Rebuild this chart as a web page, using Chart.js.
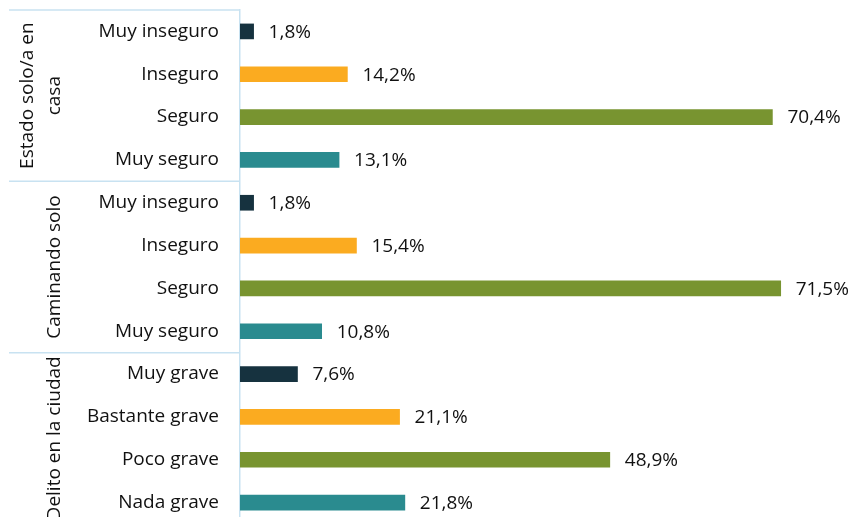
<!DOCTYPE html>
<html>
<head>
<meta charset="utf-8">
<script src="https://cdn.jsdelivr.net/npm/chart.js@4.4.1/dist/chart.umd.min.js"></script>
<style>
  html, body { margin: 0; padding: 0; background: #fff; overflow: hidden; }
  #wrap { position: relative; width: 851px; height: 524px; }
</style>
</head>
<body>
<div id="wrap"><canvas id="c"></canvas></div>
<script>
// Answer categories, top to bottom
const categories = [
  "Muy inseguro", "Inseguro", "Seguro", "Muy seguro",
  "Muy inseguro", "Inseguro", "Seguro", "Muy seguro",
  "Muy grave", "Bastante grave", "Poco grave", "Nada grave"
];
// Share of respondents (%)
const values = [1.8, 14.2, 70.4, 13.1, 1.8, 15.4, 71.5, 10.8, 7.6, 21.1, 48.9, 21.8];
// Question groups (each covers four categories); inner arrays are text lines
const groups = [["Estado solo/a en", "casa"], ["Caminando solo"], ["Delito en la ciudad"]];

const levelColors = ["#16323f", "#fbab20", "#789430", "#2a8b8f"];
const lineColor = "#c8e2f1";
const textColor = "#111111";
const fontFamily = "'Open Sans', 'DejaVu Sans', sans-serif";
const fontSize = 19;

const fmt = v => v.toFixed(1).replace(".", ",") + "%";

// Value labels to the right of each bar
const valueLabels = {
  id: "valueLabels",
  afterDatasetsDraw(chart) {
    const ctx = chart.ctx;
    const meta = chart.getDatasetMeta(0);
    ctx.save();
    ctx.font = fontSize + "px " + fontFamily;
    ctx.fillStyle = textColor;
    ctx.textAlign = "left";
    ctx.textBaseline = "middle";
    meta.data.forEach((bar, i) => {
      ctx.fillText(fmt(values[i]), bar.x + 15, bar.y + 1);
    });
    ctx.restore();
  }
};

// Group separators and rotated group titles in the axis area
const groupAxis = {
  id: "groupAxis",
  afterDraw(chart) {
    const ctx = chart.ctx;
    const y = chart.scales.y;
    const left = 9;
    const right = chart.chartArea.left;
    const per = categories.length / groups.length;
    const edge = k => {
      if (k === 0) return chart.chartArea.top;
      if (k === groups.length) return chart.chartArea.bottom;
      return (y.getPixelForValue(k * per - 1) + y.getPixelForValue(k * per)) / 2;
    };
    ctx.save();
    ctx.strokeStyle = lineColor;
    ctx.lineWidth = 1.5;
    for (let k = 0; k <= groups.length; k++) {
      const yy = edge(k);
      ctx.beginPath();
      ctx.moveTo(left, yy);
      ctx.lineTo(right, yy);
      ctx.stroke();
    }
    ctx.font = fontSize + "px " + fontFamily;
    ctx.fillStyle = textColor;
    ctx.textAlign = "center";
    ctx.textBaseline = "alphabetic";
    groups.forEach((lines, k) => {
      const cy = (edge(k) + edge(k + 1)) / 2;
      const n = lines.length;
      lines.forEach((line, j) => {
        const bx = 60 - (n - 1 - j) * 27;
        ctx.save();
        ctx.translate(bx, cy);
        ctx.rotate(-Math.PI / 2);
        ctx.fillText(line, 0, 0);
        ctx.restore();
      });
    });
    ctx.restore();
  }
};

new Chart(document.getElementById("c"), {
  type: "bar",
  data: {
    labels: categories,
    datasets: [{
      data: values,
      backgroundColor: values.map((v, i) => levelColors[i % 4]),
      barThickness: 15
    }]
  },
  options: {
    indexAxis: "y",
    responsive: true,
    maintainAspectRatio: false,
    animation: false,
    layout: { padding: { top: 10, right: 6, bottom: 0, left: 0 } },
    plugins: { legend: { display: false }, tooltip: { enabled: false } },
    scales: {
      x: { display: false, min: 0, max: 80 },
      y: {
        afterFit(scale) {
          scale.width = 240;
          scale.paddingTop = 0;
          scale.paddingBottom = 0;
        },
        grid: { drawOnChartArea: false, drawTicks: false, color: "rgba(0,0,0,0)" },
        border: { display: true, color: lineColor, width: 1.5 },
        ticks: {
          padding: 21,
          color: textColor,
          font: { family: fontFamily, size: fontSize }
        }
      }
    }
  },
  plugins: [valueLabels, groupAxis]
});
</script>
</body>
</html>
